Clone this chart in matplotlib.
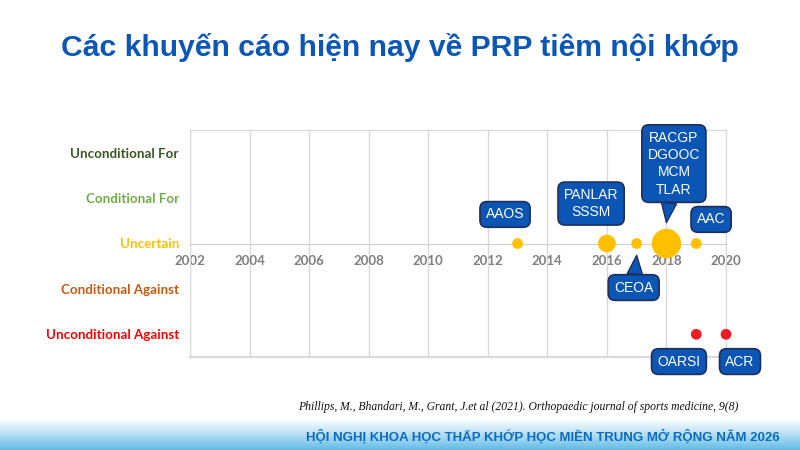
import matplotlib
matplotlib.use("Agg")
import matplotlib.pyplot as plt
import numpy as np
from matplotlib.colors import LinearSegmentedColormap

# ---- data ----
categories = ["Unconditional For", "Conditional For", "Uncertain",
              "Conditional Against", "Unconditional Against"]
category_levels = [2, 1, 0, -1, -2]
category_colors = ["#375623", "#70AD47", "#FFC000", "#C55A11", "#FF0000"]

uncertain_years = [2013, 2016, 2017, 2018, 2019]
uncertain_counts = [1, 2, 1, 4, 1]
uncertain_labels = ["AAOS", "PANLAR\nSSSM", "CEOA", "RACGP\nDGOOC\nMCM\nTLAR", "AAC"]

against_years = [2019, 2020]
against_counts = [1, 1]
against_labels = ["OARSI", "ACR"]

x_ticks = list(range(2002, 2021, 2))

# ---- layout for callouts (offset of label from point, data units; pointer flag) ----
uncertain_layout = [(-0.42, 0.64, False), (-0.53, 0.88, False), (-0.1, -0.97, True),
                    (0.25, 1.76, True), (0.5, 0.53, False)]
against_layout = [(-0.58, -0.6, False), (0.47, -0.6, False)]

fig = plt.figure(figsize=(8, 4.5), dpi=100)
ax = fig.add_axes([190/800, 1-357/450, 536/800, 227/450])

ax.set_xlim(2002, 2020)
ax.set_ylim(-2.5, 2.5)

def sizes(counts):
    return [60 * c ** 1.45 for c in counts]

ax.scatter(uncertain_years, [0]*len(uncertain_years), s=sizes(uncertain_counts),
           color="#FFC000", zorder=4, linewidths=0, clip_on=False)
ax.scatter(against_years, [-2]*len(against_years), s=sizes(against_counts),
           color="#EE1C25", zorder=4, linewidths=0, clip_on=False)

box_fc = "#0B55B4"
box_ec = "#1F2F5C"

def callout(x, y, dx, dy, text, pointer):
    kw = dict(ha="center", va="center", fontsize=10, color="white",
              family="Liberation Sans", linespacing=1.3,
              bbox=dict(boxstyle="round,pad=0.42,rounding_size=0.5", fc=box_fc, ec=box_ec, lw=1.2),
              annotation_clip=False, zorder=6)
    if pointer:
        kw["arrowprops"] = dict(arrowstyle="wedge,tail_width=1.1,shrink_factor=0.5",
                                fc=box_fc, ec=box_ec, lw=1.0,
                                shrinkA=0, shrinkB=0)
        tip = (x, y + (0.46 if dy > 0 else -0.26))
        ax.annotate(text, xy=tip, xytext=(x + dx, y + dy), **kw)
    else:
        ax.annotate(text, xy=(x + dx, y + dy), xytext=(x + dx, y + dy), **kw)

for x, lab, (dx, dy, p) in zip(uncertain_years, uncertain_labels, uncertain_layout):
    callout(x, 0, dx, dy, lab, p)
for x, lab, (dx, dy, p) in zip(against_years, against_labels, against_layout):
    callout(x, -2, dx, dy, lab, p)

# grid & frame
ax.set_xticks(x_ticks)
ax.grid(axis="x", color="#D9D9D9", lw=1.0)
ax.grid(axis="y", visible=False)
ax.set_axisbelow(True)
for s in ["top", "left", "right"]:
    ax.spines[s].set_color("#D9D9D9")
ax.spines["bottom"].set_position(("data", 0))
ax.spines["bottom"].set_color("#D0D0D0")
ax.axhline(-2.5, color="#D9D9D9", lw=1.6, clip_on=False)
ax.tick_params(axis="x", length=0, pad=8, labelsize=9.5, labelcolor="#7F7F7F")
for t in ax.get_xticklabels():
    t.set_fontfamily("Lato"); t.set_fontweight("bold")

ax.set_yticks(category_levels)
ax.set_yticklabels(categories)
ax.tick_params(axis="y", length=0, pad=8, labelsize=9.6)
for t, c in zip(ax.get_yticklabels(), category_colors):
    t.set_color(c); t.set_fontfamily("Lato"); t.set_fontweight("bold")

# title
fig.text(0.5, 1-47/450, "Các khuyến cáo hiện nay về PRP tiêm nội khớp",
         ha="center", va="center", fontsize=21.7, fontweight="bold",
         family="Liberation Sans", color="#0B57B7")

# citation
fig.text(298/800, 1-407/450,
         "Phillips, M., Bhandari, M., Grant, J.et al (2021). Orthopaedic journal of sports medicine, 9(8)",
         ha="left", va="center", fontsize=8.35, style="italic", family="Liberation Serif", color="#111111")

# banner gradient
bax = fig.add_axes([0, 0, 1, 32/450])
grad = np.linspace(0, 1, 100).reshape(-1, 1)
cmap = LinearSegmentedColormap.from_list("b", ["#62BBE6", "#B8E0F4", "#FFFFFF"])
bax.imshow(grad, aspect="auto", cmap=cmap, origin="lower", extent=[0, 1, 0, 1])
bax.set_axis_off()
fig.text(780/800, 1-437/450, "HỘI NGHỊ KHOA HỌC THẤP KHỚP HỌC MIỀN TRUNG MỞ RỘNG NĂM 2026",
         ha="right", va="center", fontsize=9.5, fontweight="bold",
         family="Liberation Sans", color="#0B6BC2")

fig.savefig("out.png", dpi=100)
